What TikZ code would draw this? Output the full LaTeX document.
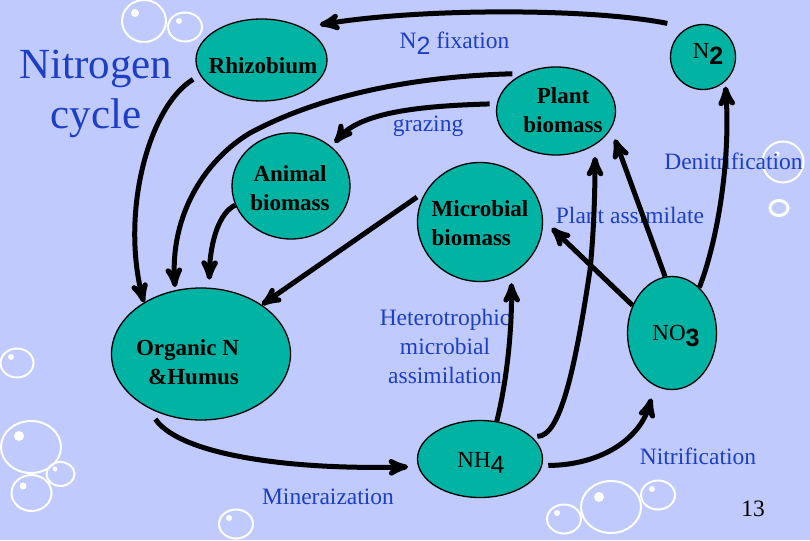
\documentclass[tikz,border=0pt]{standalone}
\usepackage{fontspec}
\setmainfont{Liberation Serif}
\newfontfamily\subfont{Liberation Sans}
\usetikzlibrary{arrows,shapes.geometric}
\definecolor{slidebg}{HTML}{C0CAFC}
\definecolor{cellteal}{HTML}{00B3A3}
\definecolor{labelblue}{HTML}{1C3FC4}
\newcommand{\lowsub}[1]{\raisebox{-6pt}{\fontsize{25}{29}\subfont #1}}

\begin{document}
\begin{tikzpicture}[x=1pt,y=-1pt,>=stealth',
    main node/.style={ellipse,draw,fill=cellteal,line width=1.3pt,inner sep=0pt},
    main text/.style={align=center,inner sep=0pt,font=\fontsize{23}{29}\selectfont\bfseries},
    blue text/.style={align=center,inner sep=0pt,text=labelblue,font=\fontsize{23.5}{29}\selectfont},
    flow/.style={->,line width=5pt},
    bubble/.style={draw=white,line width=2pt},
    spot/.style={fill=white}]
  \fill[slidebg] (0,0) rectangle (810,540);
  \useasboundingbox (0,0) rectangle (810,540);
  % bubbles
  \draw[bubble] (144,21) ellipse (22 and 21);
  \fill[spot] (135,13) circle (4);
  \draw[bubble] (185,27) ellipse (17 and 14.5);
  \fill[spot] (179,21) circle (3);
  \draw[bubble] (783,162) circle (20.5);
  \fill[spot] (777,154) circle (2.5);
  \draw[bubble,line width=3pt] (779,208) ellipse (9 and 7.5);
  \draw[bubble] (17,363) ellipse (16.5 and 14.5);
  \fill[spot] (11,357) circle (3);
  \draw[bubble] (31,447) ellipse (30 and 26);
  \fill[spot] (19,436) circle (5);
  \draw[bubble] (60.5,474) ellipse (14 and 12);
  \fill[spot] (55,469) circle (2.5);
  \draw[bubble] (31.5,493) ellipse (20 and 18);
  \fill[spot] (23,486) circle (3.5);
  \draw[bubble] (236,524) ellipse (17 and 14.5);
  \fill[spot] (229,518) circle (3);
  \draw[bubble] (564,519) ellipse (17 and 14.5);
  \fill[spot] (557,513) circle (3);
  \draw[bubble] (611,507) ellipse (30 and 26);
  \fill[spot] (599,497) circle (5);
  \draw[bubble] (658,495) ellipse (17 and 14.5);
  \fill[spot] (652,489) circle (3);

  \node[main node,minimum width=131pt,minimum height=82pt] (rhizobium) at (261.5,60) {};
  \node[main node,minimum width=118pt,minimum height=106pt] (animal) at (291,186) {};
  \node[main node,minimum width=65pt,minimum height=65pt] (n2) at (703,57) {};
  \node[main node,minimum width=119pt,minimum height=88pt] (plant) at (556,111) {};
  \node[main node,minimum width=125pt,minimum height=119pt] (microbial) at (480,222) {};
  \node[main node,minimum width=179pt,minimum height=132pt] (organic) at (201,354) {};
  \node[main node,minimum width=89pt,minimum height=113pt] (no3) at (672,333) {};
  \node[main node,minimum width=125pt,minimum height=77pt] (nh4) at (480,459) {};

  \node[main text] (rhizobium text) at (263,66) {Rhizobium};
  \node[main text] (animal text) at (290,188) {Animal\\biomass};
  \node[main text,font=\fontsize{23}{29}\selectfont] (n2 text) at (708,54) {N\lowsub{\bfseries 2}};
  \node[main text] (plant text) at (563,110) {Plant\\biomass};
  \node[main text,align=left] (microbial text) at (480,223) {Microbial\\biomass};
  \node[main text,align=right] (organic text) at (187.5,362) {Organic N\\\&Humus};
  \node[main text,font=\fontsize{23}{29}\selectfont] (no3 text) at (676,336) {NO\lowsub{\bfseries 3}};
  \node[main text,font=\fontsize{23}{29}\selectfont] (nh4 text) at (481,463) {NH\lowsub{4}};

  \node[blue text,font=\fontsize{43}{50}\selectfont] (title) at (96,94) {Nitrogen\\cycle};
  \node[blue text] (fixation) at (454.5,43) {N\lowsub{2} fixation};
  \node[blue text] (grazing) at (428,126) {grazing};
  \node[blue text] (denitrification) at (733.5,161) {Denitrification};
  \node[blue text] (assimilate) at (630,215) {Plant assimilate};
  \node[blue text] (heterotrophic) at (445,346) {Heterotrophic\\microbial\\assimilation};
  \node[blue text] (nitrification) at (698,456) {Nitrification};
  \node[blue text] (mineraization) at (328,497) {Mineraization};
  \node[blue text,text=black] (page) at (753,509) {13};

  \draw[flow,shorten <=21pt,shorten >=17pt] (n2.117) .. controls (590,8) and (420,8) .. (rhizobium.38);
  \draw[flow,shorten <=8pt] (rhizobium.194) .. controls (150,105) and (120,210) .. (organic.138);
  \draw[flow,shorten <=11pt,shorten >=3pt] (plant.131) .. controls (430,76) and (330,90) .. (250,133)
    .. controls (205,160) and (170,215) .. (organic.112);
  \draw[flow,shorten <=7pt,shorten >=5pt] (plant.173) .. controls (420,106) and (360,112) .. (animal.44);
  \draw[flow,shorten >=8pt] (animal.199) .. controls (220,212) and (210,240) .. (organic.83);
  \draw[flow,shorten <=11pt] (microbial.150) -- (organic.39);
  \draw[flow,shorten <=14pt,shorten >=10pt] (organic.225) .. controls (180,455) and (290,470) .. (nh4.187);
  \draw[flow,shorten >=9pt] (nh4.66) .. controls (507,380) and (512,330) .. (microbial.301);
  \draw[flow,shorten <=6pt,shorten >=12pt] (nh4.24) .. controls (560,437) and (575,370) .. (590,270)
    .. controls (594,230) and (595,190) .. (plant.-41);
  \draw[flow,shorten <=6pt,shorten >=13pt] (nh4.-6) .. controls (600,465) and (640,440) .. (no3.-108);
  \draw[flow,shorten >=12pt] (no3.145) -- (microbial.2);
  \draw[flow,shorten >=11pt] (no3.97) -- (plant.-18);
  \draw[flow,shorten >=5pt] (no3.59) .. controls (716,245) and (731,165) .. (n2.-48);
\end{tikzpicture}
\end{document}
